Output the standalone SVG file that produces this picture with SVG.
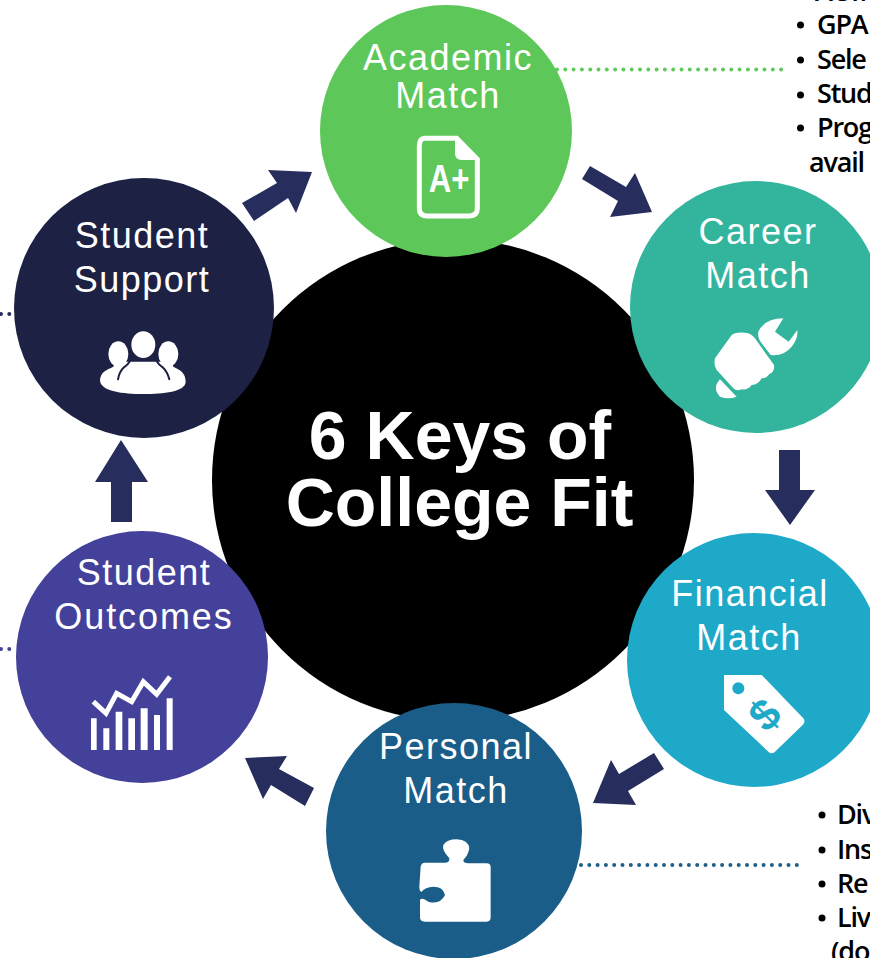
<svg xmlns="http://www.w3.org/2000/svg" width="870" height="958" viewBox="0 0 870 958">
<style>
.n{font-family:"Liberation Sans",Arial,sans-serif;font-size:36px;fill:#fff;text-anchor:middle;letter-spacing:1.5px}
.c{font-family:"Liberation Sans",Arial,sans-serif;font-size:68px;font-weight:bold;fill:#fff;text-anchor:middle}
.s{font-family:"Open Sans",sans-serif;font-size:27px;font-weight:600;fill:#000;letter-spacing:-1.200px}
.arrow{fill:#272d5c}
.ico{fill:#fff}
.dot{fill:none;stroke-width:4;stroke-linecap:round;stroke-dasharray:0 8.300}
</style>
<rect width="870" height="958" fill="#fff"/>
<g id="center"><circle cx="453" cy="480" r="241" fill="#000"/>
<text class="c" x="460" y="459">6 Keys of</text><text class="c" x="459.500" y="526">College Fit</text></g>
<g id="connectors">
<path class="dot" stroke="#5fc85a" d="M557 69.500H782"/>
<path class="dot" stroke="#1e5f87" d="M581 865H805"/>
<path class="dot" stroke="#272d5c" d="M1 314H13"/>
<path class="dot" stroke="#44419a" d="M1 649H13"/>
<path class="dot" stroke="#45bda6" d="M851 292H870"/>
<path class="dot" stroke="#3bb4d0" d="M851 660H870"/>
<polygon class="arrow" points="590,166 626,187 635,173 652,212 610,217 618,201 582,179"/>
<polygon class="arrow" points="779,450 800,450 800,490 815,490 790,525 765,490 779,490"/>
<polygon class="arrow" points="654,753 664,769 628,791 636,805 593,803 611,760 619,774"/>
<polygon class="arrow" points="314,788 305,806 271,785 263,799 245,758 287,756 279,769"/>
<polygon class="arrow" points="111,522 132,522 132,482 148,482 121,440 95,482 111,482"/>
<polygon class="arrow" points="242,203 254,221 288,198 296,213 312,172 268,170 277,183"/>
</g>
<g id="academic"><circle cx="446" cy="131" r="126" fill="#5dc75a"/>
<text class="n" x="448" y="70">Academic</text><text class="n" x="448" y="108">Match</text>
<g transform="translate(400 120) scale(.3333)">
<path d="M75 55H170L232 118V265Q232 288 208 288H80Q58 288 58 265V78Q58 55 75 55Z" fill="none" stroke="#fff" stroke-width="15"/>
<path class="ico" d="M165 55L235 120H185Q165 120 165 100Z"/></g>
<text transform="translate(449 191.500) scale(.82 1)" font-family="'Liberation Sans',sans-serif" font-size="38" font-weight="bold" fill="#fff" text-anchor="middle">A+</text></g>
<g id="career"><circle cx="756" cy="307" r="126" fill="#32b49d"/>
<text class="n" x="758" y="244">Career</text><text class="n" x="758" y="288">Match</text>
<g transform="translate(700 300) scale(.3333)" class="ico">
<path d="M45 175L95 105Q105 95 135 98Q155 100 165 115L222 195Q225 215 208 222Q200 235 185 235Q175 255 155 255Q145 270 125 268Q110 275 100 265L50 210Q40 195 45 175Z"/>
<path d="M60 238L110 290Q85 300 60 290Q35 265 60 238Z"/>
<path d="M250 55Q195 55 175 95Q172 115 185 130L212 165Q250 170 275 140Q295 115 292 90L266 125L225 95Z"/></g></g>
<g id="financial"><circle cx="754" cy="660" r="127" fill="#1fa9c8"/>
<text class="n" x="750" y="606">Financial</text><text class="n" x="749" y="650">Match</text>
<g transform="translate(710 660) scale(.3333)">
<path class="ico" d="M42 45H155L280 175Q288 185 278 195L195 275Q185 285 175 275L42 150Z"/>
<circle cx="85" cy="85" r="18" fill="#1fa9c8"/></g>
<text x="764" y="730" transform="rotate(-45 764 714)" font-family="'Liberation Sans',sans-serif" font-size="44" font-weight="bold" fill="#1fa9c8" text-anchor="middle">$</text></g>
<g id="personal"><circle cx="454" cy="831" r="128" fill="#1a5d88"/>
<text class="n" x="456" y="759">Personal</text><text class="n" x="456" y="803">Match</text>
<path class="ico" transform="translate(400 830) scale(.3333)" d="M75 98H130Q150 100 148 85Q125 60 130 45Q140 28 170 28Q205 30 208 55Q205 75 190 90Q190 100 205 100H260Q272 100 272 112V262Q272 275 260 275H75Q60 275 60 262V210Q65 200 85 215Q120 225 135 195Q130 170 100 170Q75 172 65 185Q58 185 58 170L62 110Q64 98 75 98Z"/></g>
<g id="outcomes"><circle cx="142" cy="657" r="126" fill="#44419a"/>
<text class="n" x="144" y="585">Student</text><text class="n" x="144" y="629" style="letter-spacing:1.900px">Outcomes</text>
<g transform="translate(80 665) scale(.3333)">
<path d="M40 110L78 145L110 85L155 110L190 50L230 88L270 35" fill="none" stroke="#fff" stroke-width="15"/>
<path class="ico" d="M33 160h17v95h-17zM70 190h18v65h-18zM107 140h20v115h-20zM145 160h20v95h-20zM182 130h21v125h-21zM222 150h18v105h-18zM260 100h18v155h-18z"/></g></g>
<g id="support"><circle cx="144" cy="308" r="130" fill="#1d2143"/>
<text class="n" x="142" y="248">Student</text><text class="n" x="142" y="292">Support</text>
<g transform="translate(90 320) scale(.3333)">
<ellipse class="ico" cx="85" cy="102" rx="30" ry="38"/><ellipse class="ico" cx="235" cy="102" rx="30" ry="38"/>
<path class="ico" d="M30 180C32 155 50 150 70 140L75 125H245L250 140C270 150 287 158 287 185C287 215 220 222 160 222C100 222 30 215 30 180Z"/>
<path d="M124 105Q124 128 102 142Q88 155 84 178M196 105Q196 128 218 142Q232 155 238 178" fill="none" stroke="#1d2143" stroke-width="6" stroke-linecap="round"/>
<ellipse class="ico" cx="160" cy="74" rx="36" ry="40"/></g></g>
<g id="details">
<g fill="#000"><circle cx="800.500" cy="25" r="3.500"/><circle cx="800.500" cy="60" r="3.500"/><circle cx="800.500" cy="95" r="3.500"/><circle cx="800.500" cy="128" r="3.500"/><circle cx="822" cy="815" r="3.500"/><circle cx="822" cy="850" r="3.500"/><circle cx="822" cy="884" r="3.500"/><circle cx="822" cy="918" r="3.500"/></g>
<text class="s" x="815" y="1">ACT/</text>
<text class="s" x="817" y="34">GPA</text><text class="s" x="817" y="69">Sele</text><text class="s" x="817" y="103">Stud</text><text class="s" x="817" y="137">Prog</text><text class="s" x="809" y="172">avail</text>
<text class="s" x="837" y="824">Div</text><text class="s" x="837" y="859">Ins</text><text class="s" x="837" y="893">Re</text><text class="s" x="837" y="927">Liv</text><text class="s" x="831" y="961">(do</text>
</g>
</svg>
